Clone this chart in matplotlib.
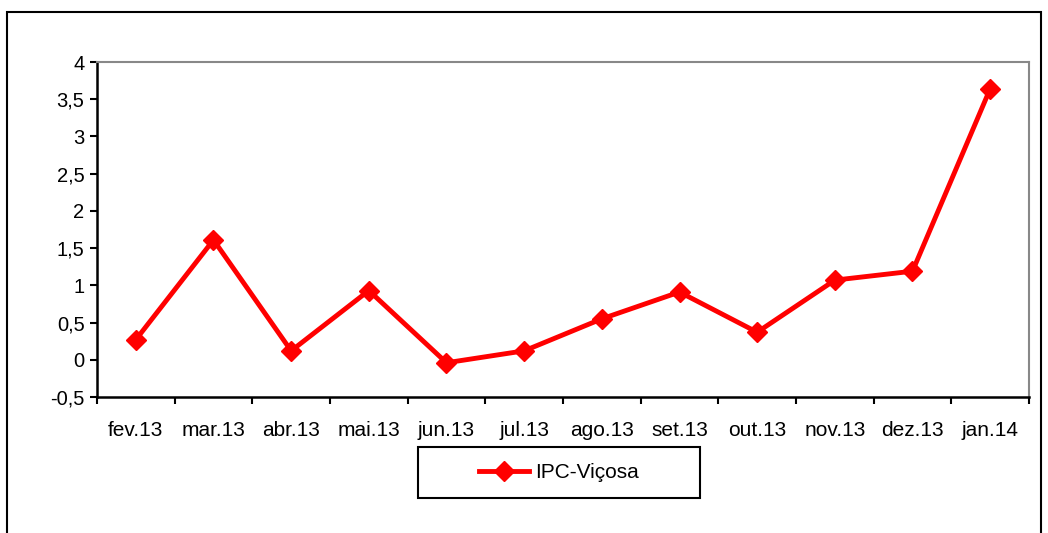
import matplotlib.pyplot as plt
from matplotlib.patches import Rectangle

plt.rcParams['font.family'] = ['Liberation Sans', 'DejaVu Sans']

# monthly IPC-Viçosa values
months = ["fev.13", "mar.13", "abr.13", "mai.13", "jun.13", "jul.13",
          "ago.13", "set.13", "out.13", "nov.13", "dez.13", "jan.14"]
ipc = [0.27, 1.61, 0.12, 0.93, -0.04, 0.12, 0.55, 0.91, 0.37, 1.07, 1.19, 3.64]
yticks = [-0.5, 0, 0.5, 1, 1.5, 2, 2.5, 3, 3.5, 4]
ytick_labels = ["-0,5", "0", "0,5", "1", "1,5", "2", "2,5", "3", "3,5", "4"]

W, H = 1048, 533
fig = plt.figure(figsize=(W / 100, H / 100), dpi=100)

# outer chart border (Excel style)
fig.patches.append(Rectangle((7 / W, -0.05), (1041 - 7) / W, (H - 12) / H + 0.05,
                             transform=fig.transFigure, fill=False,
                             edgecolor="black", linewidth=1.5))

ax = fig.add_axes([97 / W, 1 - 397 / H, (1029 - 97) / W, (397 - 62) / H])
x = range(len(months))
ax.plot(x, ipc, color="#ff0000", linewidth=3.5, marker="D", markersize=10,
        label="IPC-Viçosa")

ax.set_xlim(-0.5, len(months) - 0.5)
ax.set_ylim(-0.5, 4)
ax.set_yticks(yticks)
ax.set_yticklabels(ytick_labels)
ax.set_xticks(list(x))
ax.set_xticklabels(months)
ax.set_xticks([i - 0.5 for i in range(len(months) + 1)], minor=True)
ax.tick_params(axis="x", which="major", length=0, pad=17, labelsize=15)
ax.tick_params(axis="x", which="minor", length=5, width=1.5, direction="out")
ax.tick_params(axis="y", length=5, width=1.5, direction="out", labelsize=14.5, pad=4)

for s in ["left", "bottom"]:
    ax.spines[s].set_linewidth(1.8)
    ax.spines[s].set_color("black")
for s in ["top", "right"]:
    ax.spines[s].set_linewidth(1.5)
    ax.spines[s].set_color("#888888")

# legend box drawn separately, entry centered inside
fig.patches.append(Rectangle((418 / W, 1 - 498 / H), (700 - 418) / W, (498 - 447) / H,
                             transform=fig.transFigure, fill=False,
                             edgecolor="black", linewidth=1.5))
ax.legend(loc="center", bbox_to_anchor=(559 / W, 1 - 472.5 / H),
          bbox_transform=fig.transFigure, fontsize=15, frameon=False,
          handlelength=2.4, handletextpad=0.3, borderaxespad=0, borderpad=0)

fig.savefig("out.png", dpi=100)
